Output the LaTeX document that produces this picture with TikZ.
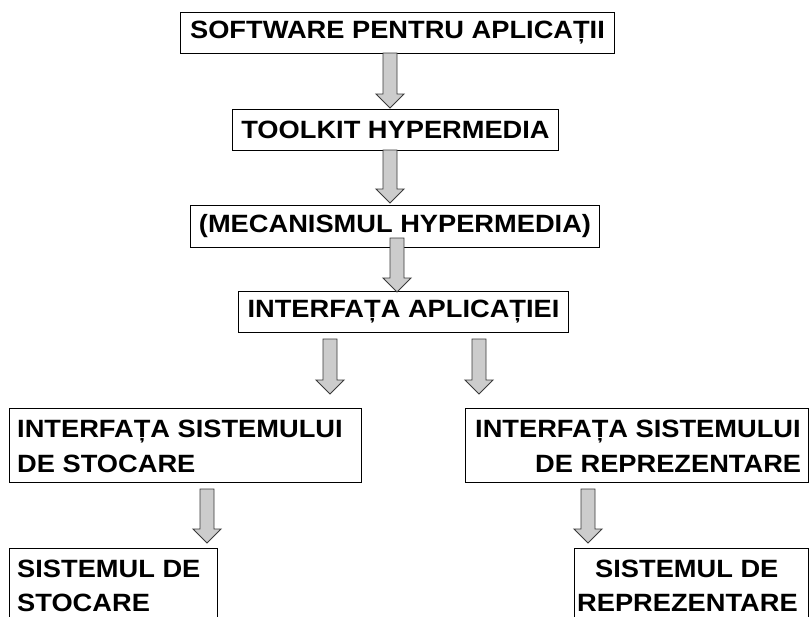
\documentclass[tikz,border=0pt]{standalone}
\usepackage{fontspec}
\newfontfamily\lab[FakeStretch=1.09]{Liberation Sans}
\usetikzlibrary{calc}
\definecolor{arrowfill}{HTML}{CCCCCC}
\definecolor{arrowline}{HTML}{3A3A3A}
\tikzset{
  box/.style={draw=black, line width=1pt, rectangle, inner sep=0pt, anchor=north west, font=\lab\bfseries\fontsize{25}{35}\selectfont},
  lbl/.style={inner sep=0pt, anchor=base west, font=\lab\bfseries\fontsize{25}{35}\selectfont},
  barrow/.style={draw=arrowline, fill=arrowfill, line width=0.9pt, line join=miter}
}
\newcommand\blockarrow[2]{%
  \draw[barrow] ($(#1)+(-7,0)$) -- ($(#2)+(-7,-14)$) -- ($(#2)+(-14,-14)$) -- (#2)
    -- ($(#2)+(14,-14)$) -- ($(#2)+(7,-14)$) -- ($(#1)+(7,0)$) -- cycle;}
\begin{document}
\begin{tikzpicture}[x=1pt, y=-1pt]
\useasboundingbox (0,0) rectangle (811,616);
\fill[white] (0,0) rectangle (811,616);

\node[box, minimum width=434, minimum height=41] (b1) at (180,12) {SOFTWARE PENTRU APLICAȚII};
\node[box, minimum width=326, minimum height=41] (b2) at (232,109) {TOOLKIT HYPERMEDIA};
\node[box, minimum width=409, minimum height=42] (b3) at (190,205) {(MECANISMUL HYPERMEDIA)};
\node[box, minimum width=330, minimum height=41] (b4) at (238,291) {INTERFAȚA APLICAȚIEI};

\node[box, minimum width=352, minimum height=74] (b5) at (9,408) {};
\node[lbl] (t5a) at (17,437) {INTERFAȚA SISTEMULUI};
\node[lbl] (t5b) at (17,472) {DE STOCARE};

\node[box, minimum width=343, minimum height=74] (b6) at (465,408) {};
\node[lbl] (t6a) at (475,437) {INTERFAȚA SISTEMULUI};
\node[lbl] (t6b) at (535,472) {DE REPREZENTARE};

\node[box, minimum width=208, minimum height=80] (b7) at (9,548) {};
\node[lbl] (t7a) at (17,577) {SISTEMUL DE};
\node[lbl] (t7b) at (17,611) {STOCARE};

\node[box, minimum width=234, minimum height=80] (b8) at (574,548) {};
\node[lbl] (t8a) at (595,577) {SISTEMUL DE};
\node[lbl] (t8b) at (577,611) {REPREZENTARE};

\coordinate (a1s) at (390,53);  \coordinate (a1e) at (390,108);
\coordinate (a2s) at (390,150); \coordinate (a2e) at (390,203);
\coordinate (a3s) at (397,238); \coordinate (a3e) at (397,292);
\coordinate (a4s) at (330,339); \coordinate (a4e) at (330,394);
\coordinate (a5s) at (479,339); \coordinate (a5e) at (479,394);
\coordinate (a6s) at (207,489); \coordinate (a6e) at (207,543);
\coordinate (a7s) at (588,489); \coordinate (a7e) at (588,543);

\blockarrow{a1s}{a1e}
\blockarrow{a2s}{a2e}
\blockarrow{a3s}{a3e}
\blockarrow{a4s}{a4e}
\blockarrow{a5s}{a5e}
\blockarrow{a6s}{a6e}
\blockarrow{a7s}{a7e}
\end{tikzpicture}
\end{document}
